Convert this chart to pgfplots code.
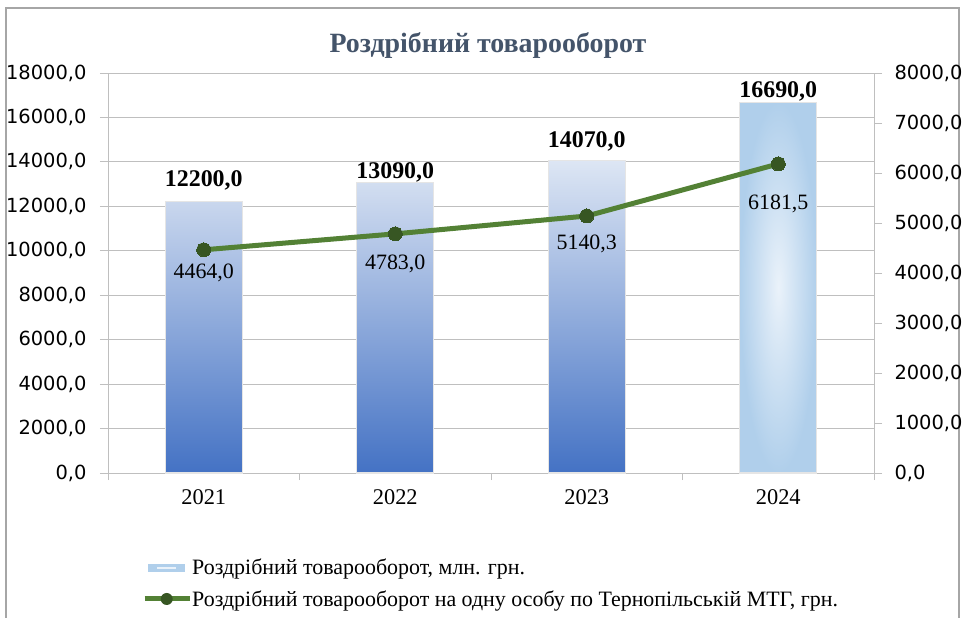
\documentclass[border=0pt]{standalone}
\usepackage{pgfplots}
\pgfplotsset{compat=1.18}
\usepackage{pgfplotstable}
\usepackage{fontspec}
\setmainfont{Liberation Serif}
\newfontfamily\dejavu{DejaVu Sans}
\definecolor{barbot}{HTML}{4472C4}
\definecolor{bartop}{HTML}{DDE6F4}
\definecolor{cin}{HTML}{EAF2FA}
\definecolor{cout}{HTML}{B0CFEB}
\definecolor{greenline}{HTML}{538135}
\definecolor{darkgreen}{HTML}{375623}
\definecolor{gridgray}{HTML}{BFBFBF}
\definecolor{framegray}{HTML}{A6A6A6}
\definecolor{titlecol}{HTML}{44546A}

\pgfplotstableread{
x y off
0 12200 22
1 13090 10
2 14070 19
}\barsA
\pgfplotstableread{
x y off
3 16690 11
}\barsB
\pgfplotstableread{
x y off
0 4464 23
1 4783 30
2 5140.3 28
3 6181.5 40
}\linedata

\pgfplotsset{
  common/.style={
    scale only axis, width=766bp, height=400bp,
    at={(108bp,-473bp)}, anchor=south west,
    xmin=-0.5, xmax=3.5, ymin=0, clip=false,
    scaled y ticks=false,
    /pgf/number format/fixed,
    /pgf/number format/fixed zerofill,
    /pgf/number format/precision=1,
    /pgf/number format/use comma,
    /pgf/number format/1000 sep={},
    /pgf/number format/assume math mode=true,
    tick align=outside,
    major tick length=8bp,
    minor tick length=7bp,
    axis line style={draw=gridgray, line width=1bp, -},
    tick style={draw=gridgray, line width=1bp},
    yticklabel style={font=\dejavu\fontsize{19.5}{20}\selectfont},
  },
}

\begin{document}
\begin{tikzpicture}
\useasboundingbox (0,0) rectangle (965bp,-618bp);
\draw[framegray, line width=1.2bp] (6bp,-640bp) -- (6bp,-8bp) -- (959bp,-8bp) -- (959bp,-640bp);
\node[font=\bfseries\fontsize{28}{30}\selectfont, text=titlecol, anchor=base] at (488bp,-52bp) {Роздрібний товарооборот};

\begin{axis}[common,
  ymax=18000, ytick distance=2000,
  axis x line*=bottom, axis y line*=left,
  ymajorgrids, grid style={draw=gridgray, line width=1bp},
  xtick={0,1,2,3}, xticklabels={2021,2022,2023,2024},
  major x tick style={draw=none},
  minor xtick={-0.5,0.5,1.5,2.5,3.5},
  yticklabel style={xshift=-10bp},
  xticklabel style={font=\fontsize{22.5}{24}\selectfont, yshift=-5bp},
  legend style={at={(0.0444,-0.215)}, anchor=north west, draw=none, fill=none,
    inner sep=0pt, font=\fontsize{22}{22}\selectfont, row sep=14bp,
    nodes={inner sep=0pt},
    /tikz/every even column/.append style={column sep=0pt}},
  legend cell align=left,
]
\addplot[ybar, bar width=77bp, bar shift=0pt, draw=black!10, line width=1.2bp, forget plot,
  top color=bartop, bottom color=barbot,
  nodes near coords, point meta=y,
  visualization depends on={\thisrow{off}\as\off},
  every node near coord/.append style={text=black, font=\bfseries\fontsize{24}{24}\selectfont, anchor=center, yshift=\off},
] table[x=x,y=y] {\barsA};
\addplot[ybar, bar width=77bp, bar shift=0pt, draw=black!10, line width=1.2bp, forget plot,
  inner color=cin, outer color=cout,
  nodes near coords, point meta=y,
  visualization depends on={\thisrow{off}\as\off},
  every node near coord/.append style={text=black, font=\bfseries\fontsize{24}{24}\selectfont, anchor=center, yshift=\off},
] table[x=x,y=y] {\barsB};
\addlegendimage{legend image code/.code={\path[draw=none] (0bp,0bp) -- (45bp,0bp); \fill[cout, draw=none] (3bp,-4bp) rectangle (40bp,4bp); \fill[cin, draw=none] (12bp,-1.2bp) rectangle (31bp,1.2bp);}}
\addlegendentry{Роздрібний товарооборот, млн. грн.}
\addlegendimage{legend image code/.code={\draw[greenline, line width=5bp] (0bp,0bp) -- (45bp,0bp); \fill[darkgreen, draw=none] (22bp,0bp) circle (6bp);}}
\addlegendentry{Роздрібний товарооборот на одну особу по Тернопільській МТГ, грн.}
\end{axis}

\begin{axis}[common,
  ymax=8000, ytick distance=1000,
  axis y line*=right, axis x line=none,
  yticklabel style={xshift=9bp},
]
\addplot[color=greenline, line width=5bp, mark=*, mark size=7bp,
  mark options={fill=darkgreen, draw=darkgreen, line width=0pt},
  nodes near coords, point meta=y,
  visualization depends on={\thisrow{off}\as\off},
  every node near coord/.append style={text=black, font=\fontsize{22}{22}\selectfont, anchor=center, yshift=-\off},
] table[x=x,y=y] {\linedata};
\end{axis}
\end{tikzpicture}
\end{document}
